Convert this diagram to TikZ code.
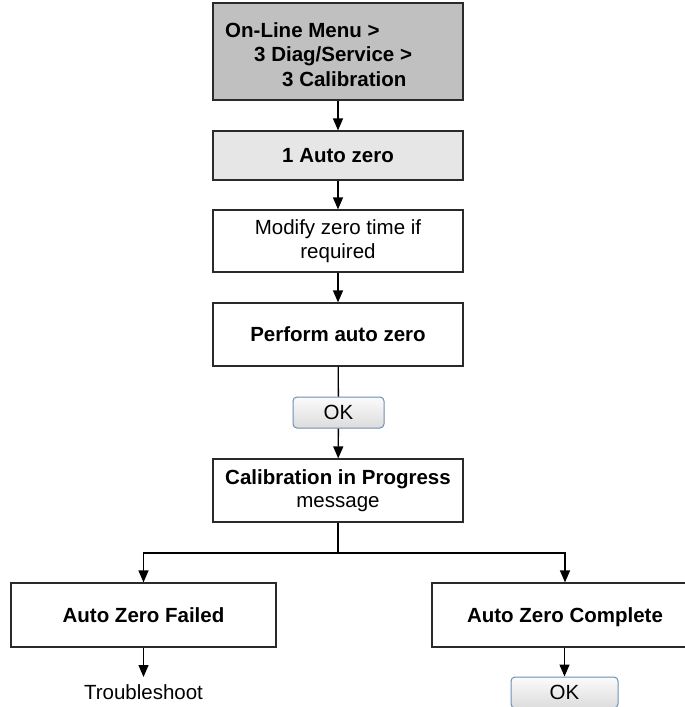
\documentclass[tikz,border=0pt]{standalone}
\usepackage{fontspec}
\setmainfont{Liberation Sans}
\usetikzlibrary{arrows.meta}
\definecolor{menugray}{HTML}{C0C0C0}
\definecolor{stepgray}{HTML}{E6E6E6}
\definecolor{btnedge}{HTML}{6F8FB2}
\definecolor{btntop}{HTML}{FBFBFB}
\definecolor{btnbottom}{HTML}{DCDCDC}
\definecolor{edge}{HTML}{2A2A2A}
\begin{document}
\begin{tikzpicture}[x=1pt,y=-1pt,
  every node/.style={font=\fontsize{20.5}{23.5}\selectfont, inner sep=0pt},
  box/.style={draw=edge, line width=1.2pt, minimum width=250pt, align=center},
  bold/.style={font=\fontsize{20.5}{23.5}\selectfont\bfseries},
  oneline/.style={text height=14.7pt, text depth=0pt},
  button/.style={draw=btnedge, line width=1pt, rounded corners=4pt,
    top color=btntop, bottom color=btnbottom, minimum height=31pt},
  conn/.style={draw=black, line width=1.3pt},
  arr/.style={conn, -{Triangle[width=10pt,length=12pt]}}
]
\useasboundingbox (0,0) rectangle (685,707);
\clip (0,0) rectangle (685,707);

% main column
\node[box, fill=menugray, minimum height=97pt] (menu) at (338,51.5) {};
\node[bold, anchor=base west] (menu1) at (225,37) {On-Line Menu >};
\node[bold, anchor=base west] (menu2) at (254,61.5) {3 Diag/Service >};
\node[bold, anchor=base west] (menu3) at (282,86) {3 Calibration};

\node[box, bold, oneline, fill=stepgray, minimum height=49pt] (autozero) at (338,155.5) {1 Auto zero};
\node[box, fill=white, minimum height=62pt] (modify) at (338,241) {Modify zero time if\\required};
\node[box, bold, oneline, fill=white, minimum height=63pt] (perform) at (338,334.5) {Perform auto zero};
\node[button, oneline, minimum width=91pt] (ok1) at (338.5,412.5) {OK};
\node[box, fill=white, minimum height=63pt] (calib) at (338,490.5) {\textbf{Calibration in Progress}\\message};

% outcomes
\node[box, bold, oneline, fill=white, minimum width=265pt, minimum height=64pt] (failed) at (143.5,615) {Auto Zero Failed};
\node[box, bold, oneline, fill=white, minimum width=266pt, minimum height=64pt] (complete) at (565,615) {Auto Zero Complete};
\node[anchor=north, inner ysep=7pt] (trouble) at (143.5,677) {Troubleshoot};
\node[button, oneline, minimum width=107pt] (ok2) at (564.5,692.5) {OK};

% connectors
\draw[arr] (menu) -- (autozero);
\draw[arr] (autozero) -- (modify);
\draw[arr] (modify) -- (perform);
\draw[conn] (perform) -- (ok1);
\draw[arr] (ok1) -- (calib);
\coordinate (split) at (338,553);
\draw[conn] (calib) -- (split);
\draw[arr] (split) -| (failed);
\draw[arr] (split) -| (complete);
\draw[arr] (failed) -- (trouble);
\draw[arr] (complete.south -| ok2) -- (ok2);
\end{tikzpicture}
\end{document}
